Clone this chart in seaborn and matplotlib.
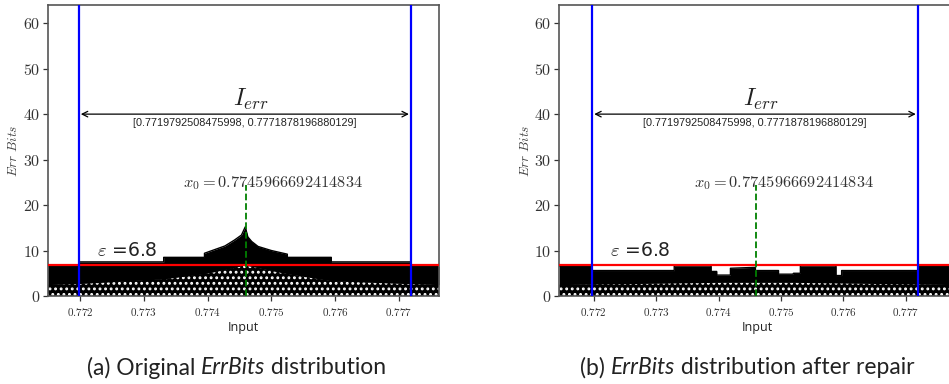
import numpy as np
import pandas as pd
import matplotlib
matplotlib.use("Agg")
import matplotlib.pyplot as plt
import seaborn as sns
from matplotlib.ticker import FixedLocator, FuncFormatter

sns.set_style("ticks")
plt.rcParams["mathtext.fontset"] = "cm"
plt.rcParams["hatch.linewidth"] = 1.3

# ---------------- data ----------------
X0 = 0.7745966692414834
I_LOW = 0.7719792508475998
I_HIGH = 0.7771878196880129
EPS = 6.8

x_ticks = [0.772, 0.773, 0.774, 0.775, 0.776, 0.777]
y_ticks = [0, 10, 20, 30, 40, 50, 60]

# upper envelope of the ErrBits point cloud (original program)
orig_x = [0.77149, 0.77198, 0.77198, 0.77331, 0.77331, 0.77395, 0.77395,
          0.77427, 0.77442, 0.77453, 0.77459, 0.77463, 0.77469, 0.77479,
          0.77500, 0.77525, 0.77525, 0.77594, 0.77594, 0.77719, 0.77719, 0.77763]
orig_top = [6.5, 6.5, 7.5, 7.5, 8.5, 8.5, 9.4,
            11.0, 12.3, 13.4, 15.2, 13.0, 12.0, 10.9,
            10.0, 9.2, 8.5, 8.5, 7.5, 7.5, 6.5, 6.5]
# lower edge of the dense part of the cloud (original)
orig_dense_x = [0.77149, 0.77300, 0.77400, 0.77459, 0.77520, 0.77600, 0.77763]
orig_dense_low = [2.5, 3.2, 5.0, 6.8, 5.0, 3.2, 2.5]

# upper envelope of the ErrBits point cloud (after repair)
rep_x = [0.77145, 0.77197, 0.77197, 0.77329, 0.77329, 0.77388, 0.77388,
         0.77397, 0.77397, 0.77419, 0.77419, 0.77459, 0.77459, 0.77496,
         0.77496, 0.77520, 0.77520, 0.77531, 0.77531, 0.77588, 0.77588,
         0.77597, 0.77597, 0.77719, 0.77719, 0.77780]
rep_top = [6.5, 6.5, 5.6, 5.6, 6.6, 6.6, 5.4,
           5.4, 4.6, 4.6, 6.1, 6.3, 5.6, 5.6,
           4.8, 4.8, 5.0, 5.0, 6.6, 6.6, 4.5,
           4.5, 5.6, 5.6, 6.5, 6.5]
rep_dense_x = [0.77145, 0.77400, 0.77459, 0.77520, 0.77780]
rep_dense_low = [2.5, 3.0, 3.0, 3.0, 2.5]

panels = [
    dict(env_x=orig_x, env_y=orig_top, low_x=orig_dense_x, low_y=orig_dense_low,
         xlim=(0.77149, 0.77763), pos=[47.7, 88, 391.3, 291]),
    dict(env_x=rep_x, env_y=rep_top, low_x=rep_dense_x, low_y=rep_dense_low,
         xlim=(0.77145, 0.77780), pos=[559.3, 88, 396.6, 291]),
]

W, H = 949, 384
fig = plt.figure(figsize=(W / 100, H / 100), dpi=100)

tick_col = "#333333"
spine_col = "#555555"

for p in panels:
    l, b, w, h = p["pos"]
    ax = fig.add_axes([l / W, b / H, w / W, h / H])

    env = pd.DataFrame({"Input": p["env_x"], "ErrBits": p["env_y"]})
    low_top = np.interp(p["env_x"], p["low_x"], p["low_y"])
    low_top = np.minimum(low_top, np.array(p["env_y"]) - 0.5)

    # sparse lower part of the cloud: black with white gaps
    ax.fill_between(env["Input"], 0, low_top, facecolor="black",
                    edgecolor="white", hatch="...", linewidth=0, zorder=1)
    # dense part of the cloud
    ax.fill_between(env["Input"], low_top, env["ErrBits"], color="black",
                    linewidth=0, zorder=2)
    sns.lineplot(data=env, x="Input", y="ErrBits", ax=ax, color="black",
                 sort=False, estimator=None, lw=1.0, zorder=2)

    # threshold line
    ax.axhline(EPS, color="red", lw=1.6, zorder=3)
    # interval borders
    ax.axvline(I_LOW, color="blue", lw=1.6, zorder=4)
    ax.axvline(I_HIGH, color="blue", lw=1.6, zorder=4)
    # x0 marker
    ax.plot([X0, X0], [0, 24.4], color="green", ls="--", lw=1.3, zorder=5)

    ax.annotate("", xy=(I_LOW + 0.00003, 40), xytext=(I_HIGH - 0.00003, 40),
                arrowprops=dict(arrowstyle="<->", color="black", lw=0.9,
                                shrinkA=0, shrinkB=0), zorder=6)
    mid = (I_LOW + I_HIGH) / 2
    ax.text(mid + 0.0001, 41.8, r"$I_{err}$", fontsize=17.5, ha="center",
            va="baseline", color="#222222")
    ax.text(mid, 37.4, f"[{I_LOW}, {I_HIGH}]", fontsize=7.8, ha="center",
            va="baseline", family="Liberation Sans", color="#222222")
    ax.text(0.77361, 24.0, r"$x_0 = $" + f"${X0}$", fontsize=11.8, ha="left",
            va="baseline", color="#333333")
    ax.text(0.77226, 8.9, r"$\varepsilon$ =" + f"{EPS}", fontsize=13.5,
            ha="left", va="baseline", family="DejaVu Sans", color="#222222")

    ax.set_xlim(*p["xlim"])
    ax.set_ylim(0, 64)
    ax.xaxis.set_major_locator(FixedLocator(x_ticks))
    ax.yaxis.set_major_locator(FixedLocator(y_ticks))
    ax.xaxis.set_major_formatter(FuncFormatter(lambda v, _: f"${v:.3f}$"))
    ax.yaxis.set_major_formatter(FuncFormatter(lambda v, _: f"${v:.0f}$"))
    ax.tick_params(axis="x", labelsize=8, colors=tick_col, length=3.5, width=0.9, pad=4)
    ax.tick_params(axis="y", labelsize=11.5, colors=tick_col, length=3.5, width=0.9, pad=2)
    ax.set_xlabel("Input", fontsize=9, family="Open Sans", color="#222222", labelpad=2)
    ax.set_ylabel(r"$Err\ Bits$", fontsize=9.5, color="#444444", labelpad=2)
    for s in ax.spines.values():
        s.set_visible(True)
        s.set_color(spine_col)
        s.set_linewidth(1.2)


def caption(cx, parts):
    renderer = fig.canvas.get_renderer()
    texts, widths = [], []
    for t, st in parts:
        tx = fig.text(0, 1 - 368 / H, t, fontsize=16.5, family="Lato", style=st,
                      ha="left", va="center", color="#222222")
        bb = tx.get_window_extent(renderer=renderer)
        texts.append(tx)
        widths.append(bb.width)
    x = cx - sum(widths) / 2
    for tx, wd in zip(texts, widths):
        tx.set_x(x / W)
        x += wd


caption(236.5, [("(a) Original ", "normal"), ("ErrBits", "italic"),
                (" distribution", "normal")])
caption(747.5, [("(b) ", "normal"), ("ErrBits", "italic"),
                (" distribution after repair", "normal")])

fig.savefig("out.png", dpi=100)
